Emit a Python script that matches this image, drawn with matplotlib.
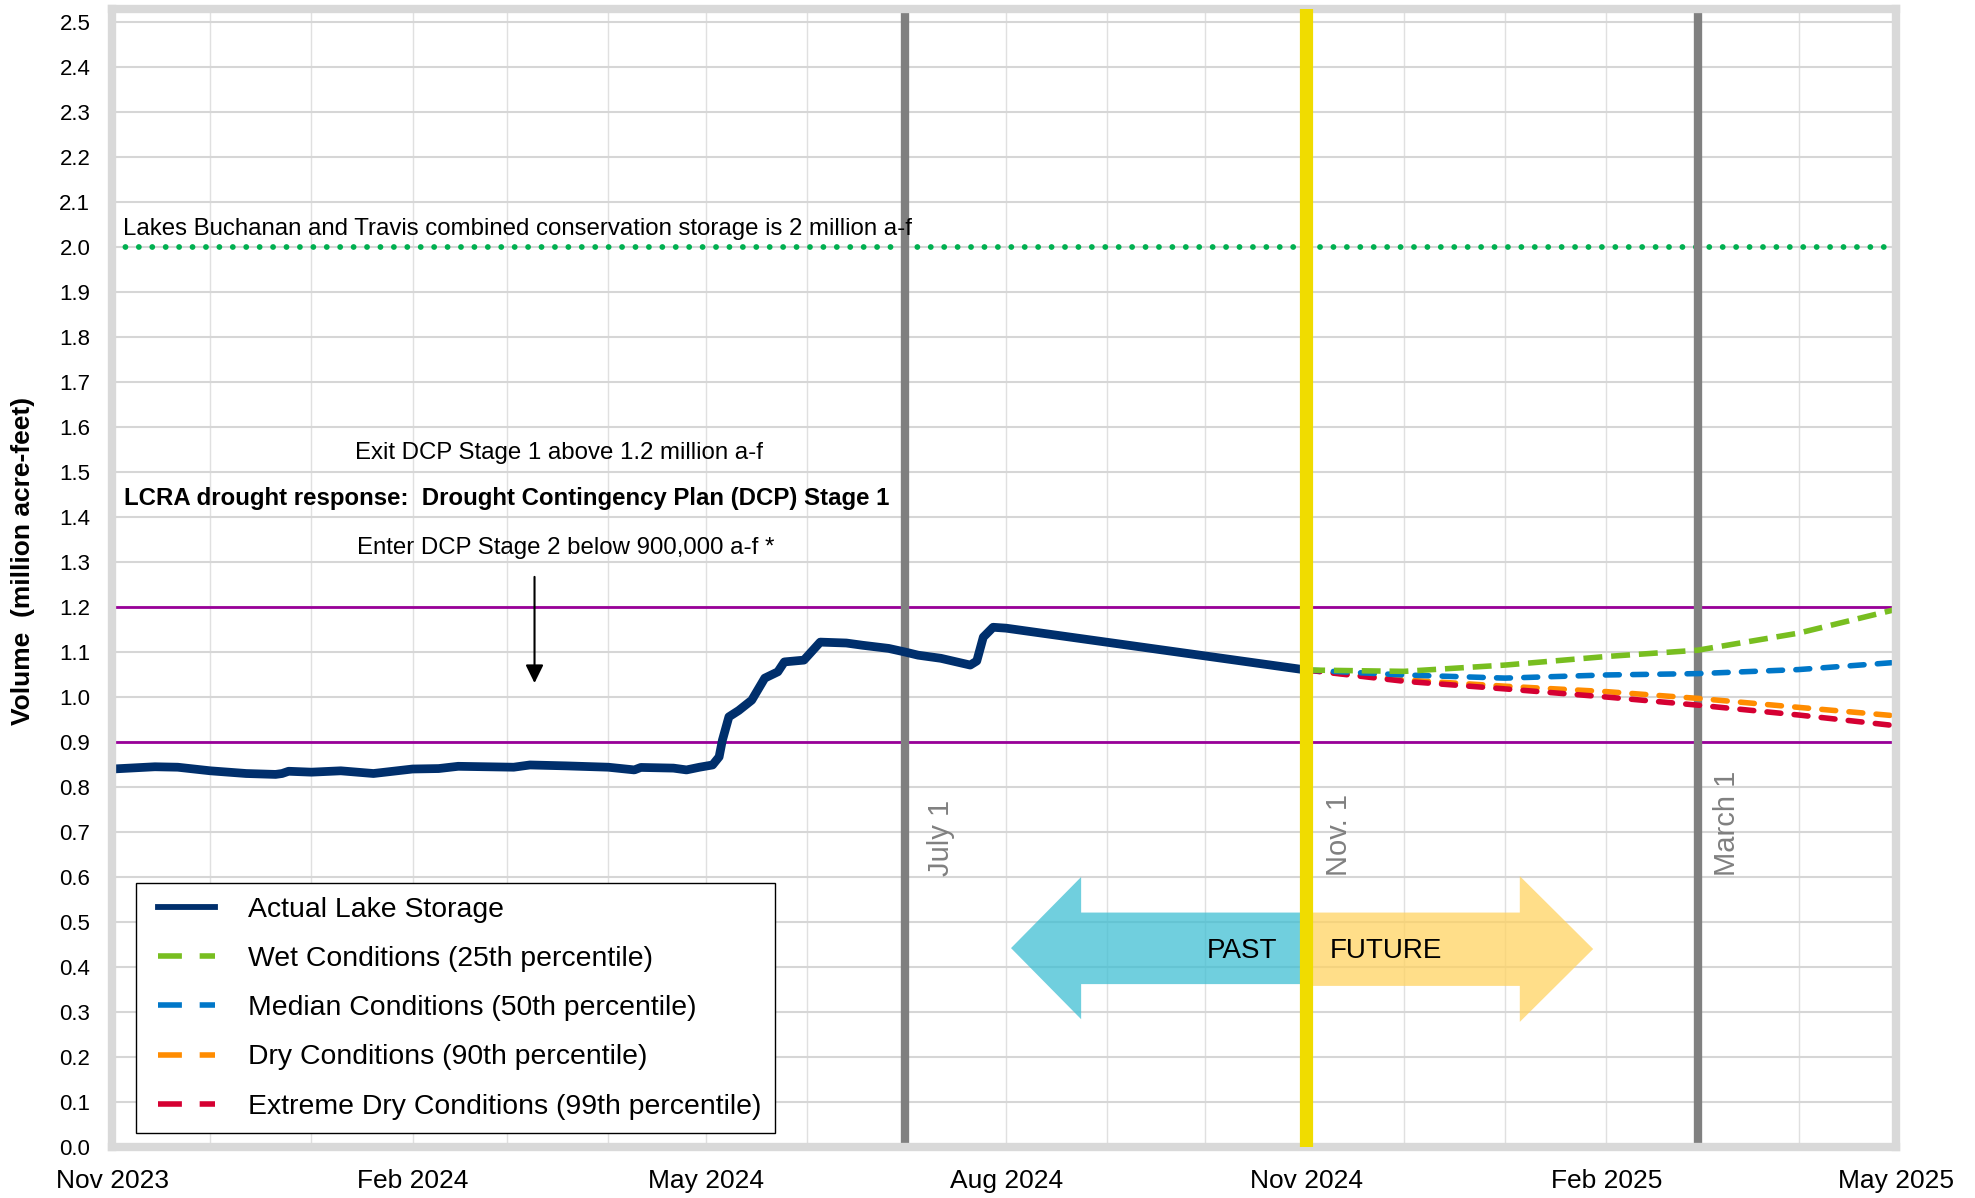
import numpy as np
import pandas as pd
import matplotlib
matplotlib.use("Agg")
import matplotlib.pyplot as plt
import matplotlib.dates as mdates
from matplotlib.patches import Polygon
from matplotlib.lines import Line2D
from matplotlib.legend_handler import HandlerLine2D
from matplotlib.ticker import MultipleLocator, FormatStrFormatter

plt.rcParams['font.family'] = ['Liberation Sans', 'DejaVu Sans']

# ---------------- data ----------------
actual_dates = ["2023-11-01", "2023-11-14", "2023-11-21", "2023-12-01", "2023-12-12",
                "2023-12-21", "2023-12-23", "2023-12-25", "2024-01-01", "2024-01-10",
                "2024-01-20", "2024-02-01", "2024-02-09", "2024-02-15", "2024-03-03",
                "2024-03-08", "2024-03-19", "2024-04-01", "2024-04-09", "2024-04-11",
                "2024-04-21", "2024-04-25", "2024-04-29", "2024-05-03", "2024-05-05",
                "2024-05-06", "2024-05-08", "2024-05-11", "2024-05-15", "2024-05-19",
                "2024-05-23", "2024-05-25", "2024-05-31", "2024-06-05", "2024-06-13",
                "2024-06-18", "2024-06-26", "2024-07-01", "2024-07-05", "2024-07-12",
                "2024-07-21", "2024-07-23", "2024-07-25", "2024-07-28", "2024-08-01",
                "2024-11-01"]
actual_vals = [0.840, 0.845, 0.844, 0.836, 0.830,
               0.828, 0.830, 0.835, 0.833, 0.836,
               0.830, 0.840, 0.841, 0.846, 0.844,
               0.849, 0.847, 0.844, 0.838, 0.8435,
               0.842, 0.838, 0.844, 0.849, 0.867,
               0.904, 0.956, 0.970, 0.993, 1.042,
               1.056, 1.078, 1.082, 1.122, 1.120,
               1.115, 1.108, 1.100, 1.093, 1.086,
               1.071, 1.080, 1.133, 1.155, 1.153,
               1.060]

forecast_dates = ["2024-11-01", "2024-12-01", "2025-01-01", "2025-02-01",
                  "2025-03-01", "2025-04-01", "2025-05-01"]
wet_vals = [1.060, 1.057, 1.071, 1.090, 1.104, 1.142, 1.195]
median_vals = [1.060, 1.049, 1.042, 1.049, 1.052, 1.061, 1.077]
dry_vals = [1.060, 1.038, 1.024, 1.012, 0.997, 0.977, 0.958]
xdry_vals = [1.060, 1.035, 1.018, 1.000, 0.982, 0.960, 0.936]

series_labels = ["Actual Lake Storage",
                 "Wet Conditions (25th percentile)",
                 "Median Conditions (50th percentile)",
                 "Dry Conditions (90th percentile)",
                 "Extreme Dry Conditions (99th percentile)"]

conservation_level = 2.0
stage_exit_level = 1.2
stage_enter_level = 0.9

marker_dates = ["2024-07-01", "2024-11-01", "2025-03-01"]
marker_labels = ["July 1", "Nov. 1", "March 1"]

x_start, x_end = "2023-11-01", "2025-05-01"

# ---------------- colors ----------------
NAVY = "#002F6C"
C_WET = "#78BE20"
C_MED = "#0077C8"
C_DRY = "#FF8C00"
C_XDRY = "#D50032"
PURPLE = "#990099"
GREEN_DOT = "#00B050"
GRAY = "#808080"
YELLOW = "#F0DC00"

def d(s):
    return mdates.date2num(pd.Timestamp(s))

fig = plt.figure(figsize=(19.75, 11.98), dpi=100)
fig.patch.set_facecolor("white")
ax = fig.add_axes([0.05696, 0.04257, 0.90329, 0.94993])

ax_dates = [d(s) for s in actual_dates]
fc = [d(s) for s in forecast_dates]

# grid
ax.set_axisbelow(True)
ax.yaxis.grid(True, color="#d6d6d6", lw=1.5, zorder=0)
ax.xaxis.grid(True, which="both", color="#e0e0e0", lw=1.0, zorder=0)

# reference lines
ax.axhline(conservation_level, color=GREEN_DOT, lw=4.2,
           linestyle=(0, (0.001, 2.3)), dash_capstyle="round", zorder=2)
ax.axhline(stage_exit_level, color=PURPLE, lw=2.0, zorder=2)
ax.axhline(stage_enter_level, color=PURPLE, lw=2.0, zorder=2)

for ds in (marker_dates[0], marker_dates[2]):
    ax.axvline(d(ds), color=GRAY, lw=6, zorder=2.5)

# past / future block arrows
nov1 = d("2024-11-01")
tip_l, hb_l = d("2024-08-02") + 0.5, d("2024-08-24")
hb_r, tip_r = d("2025-01-05") + 0.5, d("2025-01-28")
cyan = Polygon([(tip_l, 0.442), (hb_l, 0.600), (hb_l, 0.521), (nov1, 0.521),
                (nov1, 0.362), (hb_l, 0.362), (hb_l, 0.284)], closed=True,
               facecolor="#40BFD3", alpha=0.75, edgecolor="none", zorder=3.2)
yel = Polygon([(nov1, 0.521), (hb_r, 0.521), (hb_r, 0.602), (tip_r, 0.440),
               (hb_r, 0.278), (hb_r, 0.358), (nov1, 0.358)], closed=True,
              facecolor="#FFD362", alpha=0.75, edgecolor="none", zorder=3.2)
ax.add_patch(cyan)
ax.add_patch(yel)
ax.text(d("2024-10-23"), 0.42, "PAST", fontsize=20, ha="right", va="baseline", zorder=6)
ax.text(d("2024-11-08") + 0.3, 0.42, "FUTURE", fontsize=20, ha="left", va="baseline", zorder=6)

# data lines
ax.plot(ax_dates, actual_vals, color=NAVY, lw=6.3, solid_joinstyle="round",
        solid_capstyle="round", zorder=3)
ax.plot(fc, wet_vals, color=C_WET, lw=4.0, linestyle=(0, (3.4, 1.6)),
        dash_capstyle="butt", zorder=3.5)
ax.plot(fc, median_vals, color=C_MED, lw=4.0, linestyle=(0, (2.5, 2.4)),
        dash_capstyle="round", zorder=3.4)
ax.plot(fc, dry_vals, color=C_DRY, lw=4.0, linestyle=(0, (2.5, 2.4)),
        dash_capstyle="round", zorder=3.3)
ax.plot(fc, xdry_vals, color=C_XDRY, lw=4.0, linestyle=(0, (2.5, 2.4)),
        dash_capstyle="round", zorder=3.35)

# yellow "today" line
ax.axvline(d(marker_dates[1]), color=YELLOW, lw=9.5, zorder=4.5)

# vertical marker labels
offsets = [11.0, 10.0, 8.9]
for ds, lab, off in zip(marker_dates, marker_labels, offsets):
    ax.text(d(ds) + off, 0.603, lab, rotation=90, ha="center", va="bottom",
            color=GRAY, fontsize=21, zorder=6)

# annotations
ax.text(d("2023-11-04") + 0.2, 2.027,
        "Lakes Buchanan and Travis combined conservation storage is 2 million a-f",
        fontsize=17.3, ha="left", va="baseline", zorder=6)
ax.text(d("2024-03-17"), 1.530, "Exit DCP Stage 1 above 1.2 million a-f",
        fontsize=17.3, ha="center", va="baseline", zorder=6)
ax.text(d("2023-11-04") + 0.5, 1.427,
        "LCRA drought response:  Drought Contingency Plan (DCP) Stage 1",
        fontsize=17.3, fontweight="bold", ha="left", va="baseline", zorder=6)
ax.text(d("2024-03-19"), 1.318, "Enter DCP Stage 2 below 900,000 a-f *",
        fontsize=17.3, ha="center", va="baseline", zorder=6)
ax.annotate("", xy=(d("2024-03-09") + 0.4, 1.031), xytext=(d("2024-03-09") + 0.4, 1.267),
            arrowprops=dict(arrowstyle="-|>,head_length=0.55,head_width=0.27",
                            color="black", lw=1.5, mutation_scale=20,
                            shrinkA=0, shrinkB=0), zorder=6)

# axes
ax.set_xlim(d(x_start), d(x_end))
ax.set_ylim(0, 2.529)
ax.yaxis.set_major_locator(MultipleLocator(0.1))
ax.yaxis.set_major_formatter(FormatStrFormatter("%.1f"))
ax.xaxis.set_major_locator(mdates.MonthLocator(bymonth=[2, 5, 8, 11]))
ax.xaxis.set_minor_locator(mdates.MonthLocator())
ax.xaxis.set_major_formatter(mdates.DateFormatter("%b %Y"))
ax.tick_params(axis="y", which="both", length=0, pad=16, labelsize=16)
ax.tick_params(axis="x", which="both", length=0, pad=16, labelsize=19)

for s in ax.spines.values():
    s.set_color("#d9d9d9")
    s.set_linewidth(6)
    s.set_zorder(4)

fig.text(23 / 1975, 1 - 560.5 / 1198, "Volume  (million acre-feet)", rotation=90,
         ha="center", va="center", fontsize=19, fontweight="bold")

# legend
handles = [
    Line2D([0], [0], color=NAVY, lw=4.2),
    Line2D([0], [0], color=C_WET, lw=4, dashes=(4.3, 3.2)),
    Line2D([0], [0], color=C_MED, lw=4, dashes=(4.3, 3.2)),
    Line2D([0], [0], color=C_DRY, lw=4, dashes=(4.3, 3.2)),
    Line2D([0], [0], color=C_XDRY, lw=4, dashes=(4.3, 3.2)),
]
leg = ax.legend(handles, series_labels, loc="lower left",
                bbox_to_anchor=(0.0132, 0.0123), borderaxespad=0, fontsize=20.4,
                frameon=True, fancybox=False, edgecolor="black", framealpha=1,
                handlelength=2.33, handletextpad=1.16, borderpad=0.47,
                labelspacing=0.82,
                handler_map={Line2D: HandlerLine2D(xpad=0.3)})
leg.get_frame().set_linewidth(1.0)
leg.set_zorder(10)

fig.savefig("out.png", dpi=100, facecolor="white")
